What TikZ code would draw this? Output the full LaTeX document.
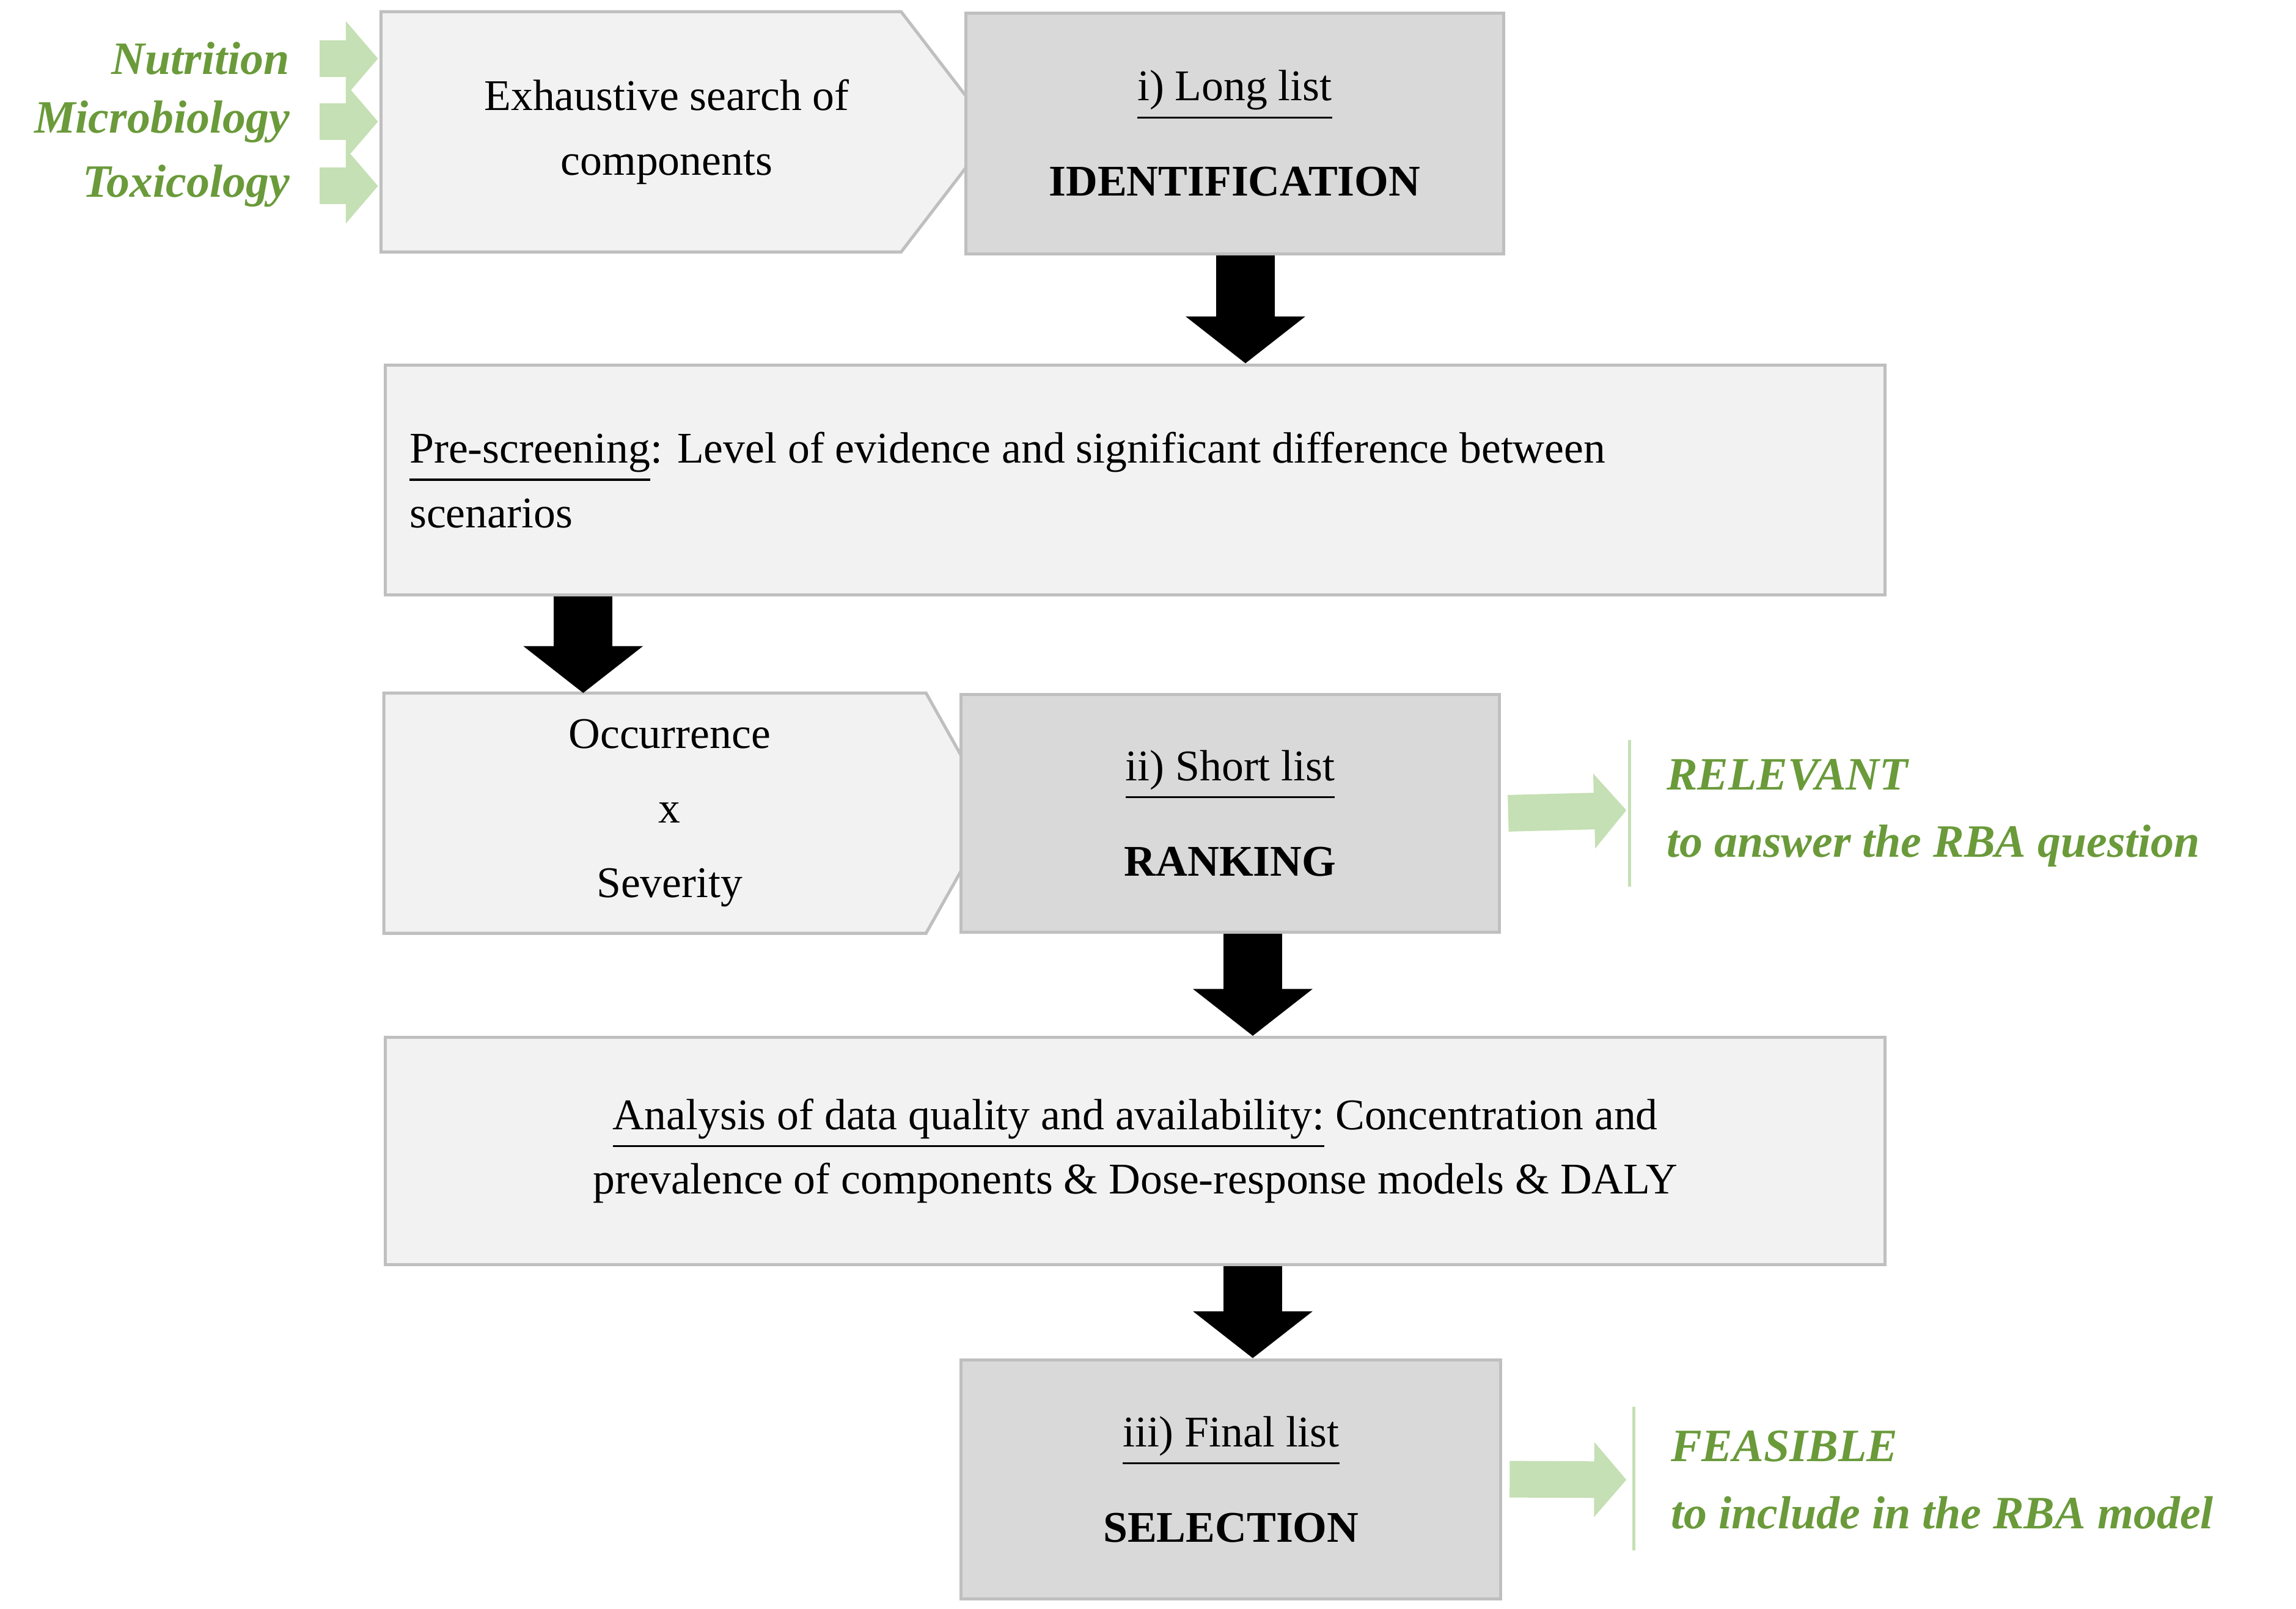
\documentclass[tikz,border=0pt]{standalone}
\usepackage{fontspec}
\setmainfont{Liberation Serif}
\usetikzlibrary{arrows.meta,shapes.symbols}
\definecolor{boxlight}{HTML}{F2F2F2}
\definecolor{boxdark}{HTML}{D9D9D9}
\definecolor{boxline}{HTML}{BFBFBF}
\definecolor{leaf}{HTML}{6A9A3A}
\definecolor{leaflight}{HTML}{C5E0B4}
\tikzset{
  stage/.style={draw=boxline,line width=0.6pt,align=center,font=\fontsize{8.5}{12.5}\selectfont},
  light/.style={stage,fill=boxlight},
  dark/.style={stage,fill=boxdark},
  down/.style={line width=0.4cm,-{Triangle[width=0.8cm,length=0.32cm]}},
  side/.style={leaflight,line width=0.25cm,-{Triangle[width=0.5cm,length=0.22cm]}},
  note/.style={text=leaf,font=\fontsize{9}{13}\selectfont\bfseries\itshape,align=left,anchor=west}
}
\begin{document}
\begin{tikzpicture}[x=0.01cm,y=-0.01cm]
\useasboundingbox (0,0) rectangle (1567,1098);
% identification
\filldraw[draw=boxline,fill=boxlight,line width=0.6pt] (260,8) -- (615,8) -- (678,90) -- (615,172) -- (260,172) -- cycle;
\node[font=\fontsize{8.5}{12.5}\selectfont,align=center] (search) at (455,90) {Exhaustive search of\\components};
\node[dark,minimum width=3.67cm,minimum height=1.64cm,anchor=north west] (long) at (658,8) {\underline{i) Long list}\\[6pt]\textbf{IDENTIFICATION}};
\foreach \t/\y in {Nutrition/40,Microbiology/83,Toxicology/127}{
  \node[note,anchor=east] (src\y) at (210,\y) {\t};
  \coordinate (in\y) at (258,\y);
  \draw[side] (src\y.east) ++(8,0) -- (in\y);
}
% pre-screening
\node[light,minimum width=10.23cm,minimum height=1.57cm,anchor=north west,text width=9.9cm,align=justify] (pre) at (262,248) {\underline{Pre-screening}: Level of evidence and significant difference between\\\centering scenarios};
\draw[down] (long.south -| 850,0) -- (pre.north -| 850,0);
% ranking
\filldraw[draw=boxline,fill=boxlight,line width=0.6pt] (262,473) -- (632,473) -- (678,555) -- (632,637) -- (262,637) -- cycle;
\node[font=\fontsize{8.5}{14.5}\selectfont,align=center] (occ) at (457,555) {Occurrence\\x\\Severity};
\node[dark,minimum width=3.67cm,minimum height=1.62cm,anchor=north west] (short) at (655,473) {\underline{ii) Short list}\\[6pt]\textbf{RANKING}};
\coordinate (occtop) at (398,473);
\draw[down] (pre.south -| occtop) -- (occtop);
\coordinate (rel) at (1110,553);
\draw[side] (short.east) ++(5,0) -- (rel);
\draw[leaflight,line width=0.6pt] (1112,505) -- (1112,605);
\node[note] (relevant) at (1125,555) {RELEVANT\\to answer the RBA question};
% selection
\node[light,minimum width=10.23cm,minimum height=1.55cm,anchor=north west] (data) at (262,707) {\underline{Analysis of data quality and availability:} Concentration and\\prevalence of components \& Dose-response models \& DALY};
\draw[down] (short.south -| 855,0) -- (data.north -| 855,0);
\node[dark,minimum width=3.68cm,minimum height=1.63cm,anchor=north west] (final) at (655,927) {\underline{iii) Final list}\\[6pt]\textbf{SELECTION}};
\draw[down] (data.south -| 855,0) -- (final.north -| 855,0);
\coordinate (fea) at (1110,1010);
\draw[side] (final.east) ++(5,0) -- (fea);
\draw[leaflight,line width=0.6pt] (1115,960) -- (1115,1058);
\node[note] (feasible) at (1128,1010) {FEASIBLE\\to include in the RBA model};
\end{tikzpicture}
\end{document}
